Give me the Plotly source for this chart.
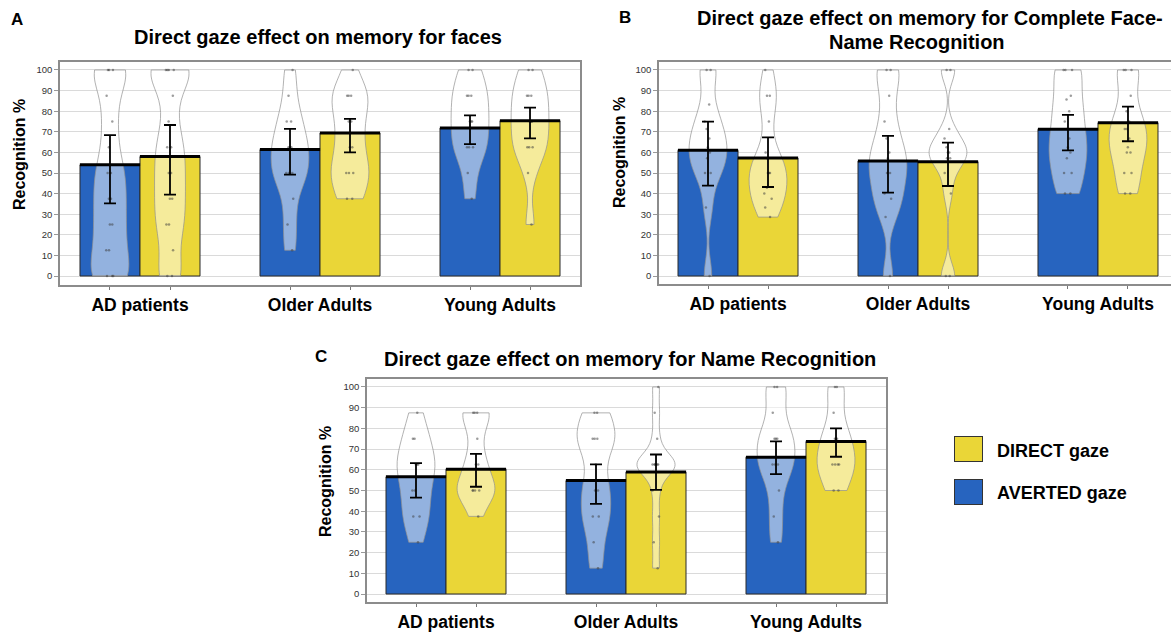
import plotly.graph_objects as go

# ---------------- data ----------------
categories = ["AD patients", "Older Adults", "Young Adults"]
y_ticks = [0, 10, 20, 30, 40, 50, 60, 70, 80, 90, 100]

# Panel A: memory for faces
A_direct_mean = [58.0, 69.4, 75.4]
A_direct_hi = [73.3, 76.3, 81.7]
A_direct_lo = [39.5, 60.0, 66.8]
A_averted_mean = [54.0, 61.4, 71.8]
A_averted_hi = [68.4, 71.4, 78.0]
A_averted_lo = [35.3, 49.2, 64.0]

# Panel B: complete face-name recognition
B_direct_mean = [57.3, 55.5, 74.4]
B_direct_hi = [67.3, 64.7, 82.2]
B_direct_lo = [43.2, 43.7, 65.4]
B_averted_mean = [61.0, 55.8, 71.2]
B_averted_hi = [74.9, 68.0, 78.2]
B_averted_lo = [43.9, 40.5, 61.0]

# Panel C: name recognition
C_direct_mean = [60.3, 58.9, 73.7]
C_direct_hi = [67.7, 67.4, 80.0]
C_direct_lo = [51.8, 50.3, 66.3]
C_averted_mean = [56.6, 54.8, 66.1]
C_averted_hi = [63.2, 62.6, 73.7]
C_averted_lo = [46.6, 43.5, 57.9]

# individual scores (violins), per group: AD, Older, Young
A_averted_pts = [
    [0, 0, 0, 12.5, 12.5, 25, 25, 37.5, 37.5, 50, 50, 62.5, 75, 87.5, 100, 100, 100],
    [12.5, 25, 37.5, 50, 50, 50, 62.5, 62.5, 62.5, 75, 75, 87.5, 100],
    [37.5, 50, 62.5, 62.5, 62.5, 75, 75, 75, 87.5, 87.5, 87.5, 100, 100],
]
A_direct_pts = [
    [0, 0, 12.5, 25, 25, 37.5, 37.5, 50, 50, 62.5, 62.5, 75, 87.5, 100, 100, 100, 100],
    [37.5, 37.5, 50, 50, 50, 62.5, 62.5, 75, 75, 87.5, 87.5, 87.5, 100],
    [25, 50, 62.5, 62.5, 62.5, 75, 75, 75, 87.5, 87.5, 87.5, 100, 100],
]
B_averted_pts = [
    [0, 33.3, 50, 50, 57.1, 60, 62.5, 66.7, 71.4, 75, 83.3, 100, 100],
    [0, 28.6, 37.5, 40, 50, 50, 57.1, 60, 66.7, 75, 87.5, 100, 100],
    [40, 40, 50, 50, 57.1, 60, 62.5, 66.7, 71.4, 75, 80, 85.7, 87.5, 100, 100, 100],
]
B_direct_pts = [
    [28.6, 33.3, 37.5, 40, 42.9, 50, 50, 50, 57.1, 60, 75, 87.5, 87.5, 100],
    [0, 0, 40, 50, 57.1, 57.1, 60, 60, 62.5, 66.7, 71.4, 100, 100],
    [40, 40, 50, 50, 60, 60, 62.5, 66.7, 71.4, 71.4, 75, 80, 87.5, 100, 100, 100],
]
C_averted_pts = [
    [25, 37.5, 37.5, 50, 50, 62.5, 62.5, 62.5, 75, 75, 87.5],
    [12.5, 25, 37.5, 37.5, 50, 50, 62.5, 75, 75, 75, 87.5, 87.5],
    [25, 37.5, 50, 62.5, 62.5, 62.5, 75, 75, 75, 87.5, 100, 100],
]
C_direct_pts = [
    [37.5, 50, 50, 50, 50, 62.5, 62.5, 75, 87.5, 87.5, 87.5],
    [12.5, 25, 37.5, 50, 62.5, 62.5, 62.5, 62.5, 62.5, 62.5, 75, 87.5, 100],
    [50, 50, 62.5, 62.5, 62.5, 62.5, 75, 75, 75, 87.5, 100, 100],
]
# kernel bandwidth per violin (averted AD/Older/Young, direct AD/Older/Young)
A_bw = [[9, 8, 8], [9, 8, 8]]
B_bw = [[8, 8, 8], [8, 6, 8]]
C_bw = [[8, 8, 8], [7, 5.5, 8]]

titles = [
    "Direct gaze effect on memory for faces",
    "Direct gaze effect on memory for Complete Face-",
    "Name Recognition",
    "Direct gaze effect on memory for Name Recognition",
]
legend_labels = ["DIRECT gaze", "AVERTED gaze"]

# ---------------- style ----------------
BLUE = "#2764BF"
YELLOW = "#EAD637"
FONT = "Liberation Sans, Arial, sans-serif"
W, H = 1171, 635
BAR_W = 1 / 3

panels = [
    dict(ax="", dm=A_direct_mean, dh=A_direct_hi, dl=A_direct_lo,
         am=A_averted_mean, ah=A_averted_hi, al=A_averted_lo,
         dp=A_direct_pts, ap=A_averted_pts, bw=A_bw),
    dict(ax="2", dm=B_direct_mean, dh=B_direct_hi, dl=B_direct_lo,
         am=B_averted_mean, ah=B_averted_hi, al=B_averted_lo,
         dp=B_direct_pts, ap=B_averted_pts, bw=B_bw),
    dict(ax="3", dm=C_direct_mean, dh=C_direct_hi, dl=C_direct_lo,
         am=C_averted_mean, ah=C_averted_hi, al=C_averted_lo,
         dp=C_direct_pts, ap=C_averted_pts, bw=C_bw),
]

fig = go.Figure()
idx = list(range(len(categories)))

# bars first
for p in panels:
    xa, ya = "x" + p["ax"], "y" + p["ax"]
    xb = [i - BAR_W / 2 for i in idx]
    xy = [i + BAR_W / 2 for i in idx]
    fig.add_trace(go.Bar(x=xb, y=p["am"], width=BAR_W, marker=dict(color=BLUE, line=dict(color="#2a2a2a", width=1)),
                         xaxis=xa, yaxis=ya, name="AVERTED gaze"))
    fig.add_trace(go.Bar(x=xy, y=p["dm"], width=BAR_W, marker=dict(color=YELLOW, line=dict(color="#2a2a2a", width=1)),
                         xaxis=xa, yaxis=ya, name="DIRECT gaze"))

# violins
for p in panels:
    xa, ya = "x" + p["ax"], "y" + p["ax"]
    for i in idx:
        for pts, off, bw in ((p["ap"][i], -BAR_W / 2, p["bw"][0][i]), (p["dp"][i], BAR_W / 2, p["bw"][1][i])):
            fig.add_trace(go.Violin(
                x=[i + off] * len(pts), y=pts, xaxis=xa, yaxis=ya,
                width=0.21, spanmode="hard", bandwidth=bw,
                fillcolor="rgba(255,255,255,0.5)", line=dict(color="#909090", width=0.7),
                points="all", pointpos=0, jitter=0.25,
                marker=dict(size=2.5, color="rgba(60,60,60,0.5)"),
                box_visible=False, meanline_visible=False, hoverinfo="skip",
            ))

# mean lines + error bars on top
for p in panels:
    xa, ya = "x" + p["ax"], "y" + p["ax"]
    for means, hi, lo, off in ((p["am"], p["ah"], p["al"], -BAR_W / 2), (p["dm"], p["dh"], p["dl"], BAR_W / 2)):
        fig.add_trace(go.Scatter(
            x=[i + off for i in idx], y=means, mode="markers", xaxis=xa, yaxis=ya,
            marker=dict(symbol="line-ew", size=43, line=dict(color="black", width=3)),
            error_y=dict(type="data", symmetric=False,
                         array=[h - m for h, m in zip(hi, means)],
                         arrayminus=[m - l for m, l in zip(means, lo)],
                         color="black", thickness=1.8, width=6),
            hoverinfo="skip",
        ))

# ---------------- axes ----------------
def px_x(x):
    return x / W

def px_y(y):
    return 1 - y / H

axis_specs = {
    "": dict(xd=[60, 580], xr=[-0.4444, 2.4444], yd=[62, 285], yr=[-4.37, 103.88], mirror=True),
    "2": dict(xd=[659, 1171], xr=[-0.4389, 2.4056], yd=[62, 284], yr=[-3.88, 103.88], mirror=False),
    "3": dict(xd=[367, 886], xr=[-0.4389, 2.4444], yd=[379, 602], yr=[-3.86, 103.86], mirror=True),
}
minor_vals = [i + s * BAR_W / 2 for i in idx for s in (-1, 1)]
for k, s in axis_specs.items():
    fig.update_layout(**{
        "xaxis" + k: dict(
            domain=[px_x(s["xd"][0]), px_x(s["xd"][1])], range=s["xr"],
            anchor="y" + k, tickmode="array", tickvals=idx, ticktext=categories,
            ticks="", showgrid=False, zeroline=False,
            showline=True, mirror=True, linecolor="#8c8c8c", linewidth=1.5,
            tickfont=dict(family=FONT, size=17.5, color="black", weight="bold"),
            minor=dict(tickmode="array", tickvals=minor_vals, ticks="outside", ticklen=3,
                       tickcolor="#777", showgrid=False),
            ticklabelstandoff=3,
        ),
        "yaxis" + k: dict(
            domain=[px_y(s["yd"][1]), px_y(s["yd"][0])], range=s["yr"],
            anchor="x" + k, tickmode="array", tickvals=y_ticks,
            ticks="outside", ticklen=4, tickcolor="#999",
            showgrid=True, gridcolor="#dadada", gridwidth=1, zeroline=False,
            showline=True, mirror=s["mirror"], linecolor="#8c8c8c", linewidth=1.5,
            tickfont=dict(family=FONT, size=9.5, color="#333"),
        ),
    })

# ---------------- annotations ----------------
ann = []
def text(x, y, t, size, xanchor="center", angle=0):
    ann.append(dict(x=px_x(x), y=px_y(y), xref="paper", yref="paper", text=t, showarrow=False,
                    xanchor=xanchor, yanchor="middle", textangle=angle,
                    font=dict(family=FONT, size=size, color="black", weight="bold")))

text(17, 19, "A", 17)
text(625, 18, "B", 17)
text(321, 356, "C", 17)
text(318, 37, titles[0], 20)
text(930, 18, titles[1], 20)
text(917, 42, titles[2], 20)
text(630, 359, titles[3], 20)
text(19, 155, "Recognition %", 16, angle=-90)
text(619, 153, "Recognition %", 16, angle=-90)
text(325, 482, "Recognition %", 16, angle=-90)

# legend boxes
for yc, col in ((449, YELLOW), (492, BLUE)):
    ann.append(dict(x=px_x(968), y=px_y(yc), xref="paper", yref="paper", text=" ", showarrow=False,
                    xanchor="center", yanchor="middle", width=27, height=24, bgcolor=col,
                    bordercolor="#333", borderwidth=1, borderpad=0))
text(995, 451, legend_labels[0], 18, xanchor="left")
text(995, 493, legend_labels[1], 18, xanchor="left")

fig.update_layout(
    width=W, height=H, margin=dict(l=0, r=0, t=0, b=0),
    paper_bgcolor="white", plot_bgcolor="white",
    showlegend=False, barmode="overlay", annotations=ann,
)

fig.write_html("out.html", config={"displayModeBar": False},
               post_script="document.body.style.margin='0px';document.body.style.overflow='hidden';")
